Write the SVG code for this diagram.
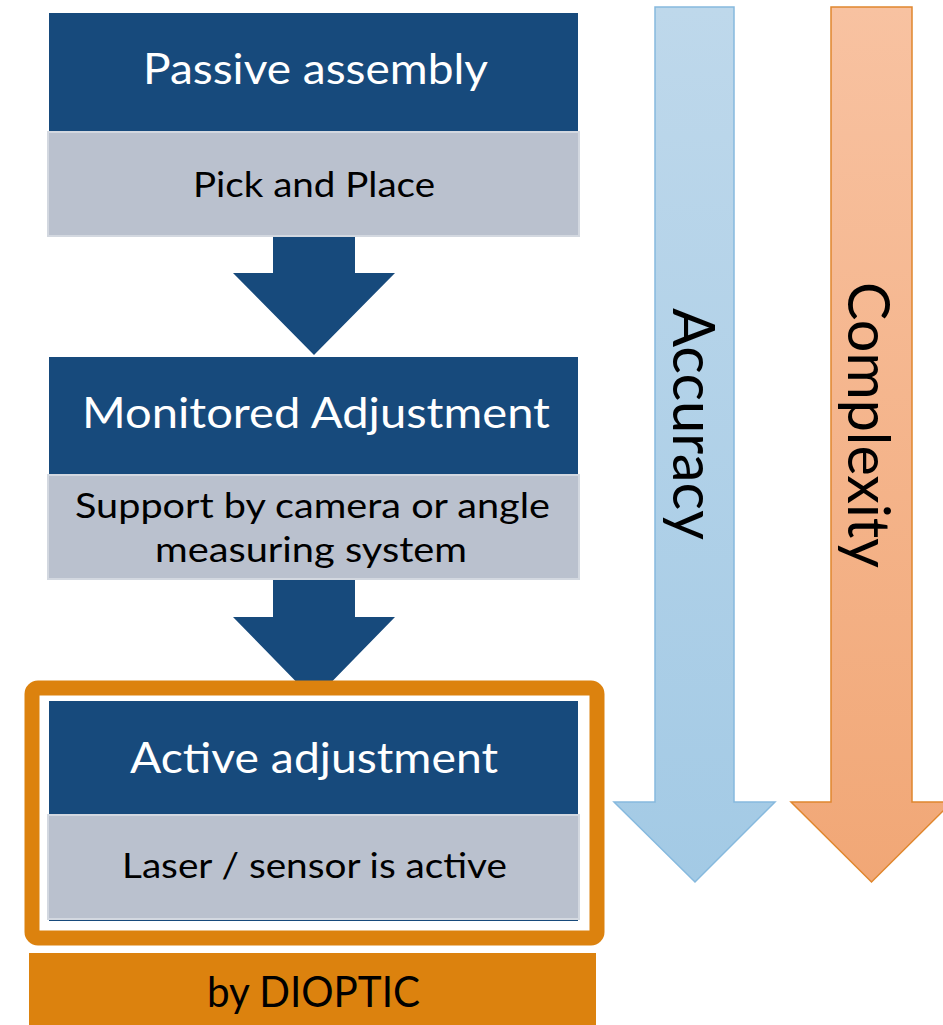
<svg xmlns="http://www.w3.org/2000/svg" width="943" height="1025" viewBox="0 0 943 1025">
<style>
.dark{fill:#174A7C}
.gray{fill:#BAC1CE;stroke:#D3D8E0;stroke-width:2}
.t{font-family:Lato,"Open Sans","Liberation Sans",sans-serif;text-anchor:middle}
.title{font-size:43px;fill:#FFFFFF}
.sub{font-size:34px;fill:#000000}
.side{font-size:58px;fill:#000000}
.flow{fill:#174A7C}
</style>
<defs>
<linearGradient id="gBlue" x1="0" y1="0" x2="0" y2="1">
<stop offset="0" stop-color="#BED8EB"/>
<stop offset="1" stop-color="#A3CAE5"/>
</linearGradient>
<linearGradient id="gOrange" x1="0" y1="0" x2="0" y2="1">
<stop offset="0" stop-color="#F8C2A1"/>
<stop offset="1" stop-color="#F1A776"/>
</linearGradient>
</defs>
<rect width="943" height="1025" fill="#FFFFFF"/>

<g id="accuracy">
<polygon points="655,7 734,7 734,802 775,802 695,882 614,802 655,802" fill="url(#gBlue)" stroke="#86B9DE" stroke-width="1.5"/>
<text class="t side" transform="translate(673,424) rotate(90)" textLength="232" lengthAdjust="spacingAndGlyphs">Accuracy</text>
</g>
<g id="complexity">
<polygon points="831,7 912,7 912,802 952,802 871.5,882 791,802 831,802" fill="url(#gOrange)" stroke="#E0872E" stroke-width="1.5"/>
<text class="t side" transform="translate(848,425) rotate(90)" textLength="286" lengthAdjust="spacingAndGlyphs">Complexity</text>
</g>

<g id="connectors">
<polygon class="flow" points="273,237 355,237 355,273 395,273 314,355 233,273 273,273"/>
<polygon class="flow" points="273,580 355,580 355,617 395,617 314,700 233,617 273,617"/>
</g>

<g id="passive">
<rect class="dark" x="49" y="13" width="529" height="119"/>
<rect class="gray" x="48" y="132" width="531" height="104"/>
<text class="t title" x="315.5" y="84" textLength="345" lengthAdjust="spacingAndGlyphs">Passive assembly</text>
<text class="t sub" x="314" y="197" textLength="242" lengthAdjust="spacingAndGlyphs">Pick and Place</text>
</g>

<g id="monitored">
<rect class="dark" x="49" y="357" width="529" height="118"/>
<rect class="gray" x="48" y="475" width="531" height="104"/>
<text class="t title" x="316" y="428" textLength="468" lengthAdjust="spacingAndGlyphs">Monitored Adjustment</text>
<text class="t sub" x="312.5" y="518" textLength="475" lengthAdjust="spacingAndGlyphs">Support by camera or angle</text>
<text class="t sub" x="311" y="562" textLength="312" lengthAdjust="spacingAndGlyphs">measuring system</text>
</g>

<g id="active">
<rect x="32" y="688" width="565" height="250" rx="6" fill="#FFFFFF" stroke="#DC820E" stroke-width="15"/>
<rect class="dark" x="49" y="701" width="529" height="220"/>
<rect class="gray" x="48" y="815" width="531" height="104"/>
<text class="t title" x="314" y="773" textLength="368" lengthAdjust="spacingAndGlyphs">Active adjustment</text>
<text class="t sub" x="314.5" y="878" textLength="385" lengthAdjust="spacingAndGlyphs">Laser / sensor is active</text>
</g>

<g id="dioptic">
<rect x="29" y="953" width="567" height="72" fill="#DC820E"/>
<text class="t" x="313.5" y="1007" font-size="42" fill="#000000" textLength="213" lengthAdjust="spacingAndGlyphs">by DIOPTIC</text>
</g>
</svg>
